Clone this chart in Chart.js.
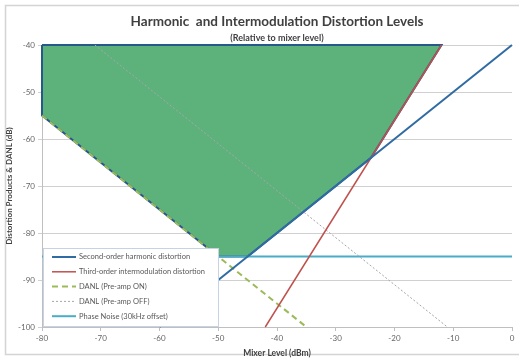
<!DOCTYPE html>
<html>
<head>
<meta charset="utf-8">
<script src="https://cdn.jsdelivr.net/npm/chart.js@4/dist/chart.umd.min.js"></script>
<style>
  html, body { margin: 0; padding: 0; background: #fff; }
</style>
</head>
<body>
<canvas id="chart" width="519" height="358"></canvas>
<script>
// line end points (mixer level dBm -> level dB)
var shdX = [-60, 0];          var shdY = [-100, -40];
var toiX = [-42, -12];        var toiY = [-100, -40];
var danlOnX = [-80, -35];     var danlOnY = [-55, -100];
var danlOffX = [-71, -11];    var danlOffY = [-40, -100];
var phaseX = [-80, 0];        var phaseY = [-85, -85];
// shaded dynamic range region
var rangeX = [-80, -12, -24, -45, -50, -80, -80];
var rangeY = [-40, -40, -64, -85, -85, -55, -40];

var xTicks = [-80, -70, -60, -50, -40, -30, -20, -10, 0];
var yTicks = [-100, -90, -80, -70, -60, -50, -40];

function pts(xs, ys) {
    return xs.map(function(x, i) { return { x: x, y: ys[i] }; });
}

var FONT = 'Lato, "Open Sans", sans-serif';

var frame = {
    id: 'frame',
    beforeDraw: function(chart) {
        var c = chart.ctx;
        c.save();
        c.fillStyle = '#fff';
        c.fillRect(0, 0, chart.width, chart.height);
        c.strokeStyle = '#d4d4d4';
        c.lineWidth = 1.5;
        c.strokeRect(5.5, 5.5, 525, 349);
        c.restore();
    }
};

var boxLegend = {
    id: 'boxLegend',
    afterDraw: function(chart) {
        var c = chart.ctx;
        c.save();
        c.fillStyle = '#fff';
        c.fillRect(43, 248, 175, 78);
        c.strokeStyle = '#c5d3e2';
        c.lineWidth = 1;
        c.strokeRect(43.5, 248.5, 175, 78);
        c.font = '7.5px ' + FONT;
        c.textBaseline = 'middle';
        var y = 257;
        chart.data.datasets.forEach(function(ds) {
            if (!ds.label) return;
            c.beginPath();
            c.setLineDash(ds.borderDash || []);
            c.strokeStyle = ds.borderColor;
            c.lineWidth = ds.borderWidth;
            c.moveTo(52, y);
            c.lineTo(76, y);
            c.stroke();
            c.setLineDash([]);
            c.fillStyle = '#595959';
            c.fillText(ds.label, 79, y);
            y += 14.8;
        });
        c.restore();
    }
};

new Chart(document.getElementById('chart'), {
    type: 'line',
    data: {
        datasets: [{
            label: 'Second-order harmonic distortion',
            data: pts(shdX, shdY),
            borderColor: '#2f6ca3',
            borderWidth: 2
        }, {
            label: 'Third-order intermodulation distortion',
            data: pts(toiX, toiY),
            borderColor: '#c0504d',
            borderWidth: 1.5
        }, {
            label: 'DANL (Pre-amp ON)',
            data: pts(danlOnX, danlOnY),
            borderColor: '#9bbb59',
            borderWidth: 2,
            borderDash: [6, 4]
        }, {
            label: 'DANL (Pre-amp OFF)',
            data: pts(danlOffX, danlOffY),
            borderColor: '#a6a6a6',
            borderWidth: 1,
            borderDash: [2, 2]
        }, {
            label: 'Phase Noise (30kHz offset)',
            data: pts(phaseX, phaseY),
            borderColor: '#4bacc6',
            borderWidth: 2
        }, {
            label: '',
            data: pts(rangeX, rangeY),
            borderColor: '#28588a',
            borderWidth: 2,
            backgroundColor: '#5db27c',
            fill: 'shape',
            order: 10
        }]
    },
    options: {
        responsive: false,
        animation: false,
        events: [],
        clip: false,
        elements: {
            point: { radius: 0 },
            line: { tension: 0, fill: false }
        },
        layout: { padding: { top: 5, right: 7, left: 0, bottom: 0 } },
        plugins: {
            legend: { display: false },
            tooltip: { enabled: false },
            title: {
                display: true,
                fullSize: false,
                text: 'Harmonic  and Intermodulation Distortion Levels',
                color: '#404040',
                font: { family: FONT, size: 13.5, weight: 'bold' },
                padding: { top: 9, bottom: 1 }
            },
            subtitle: {
                display: true,
                fullSize: false,
                text: '(Relative to mixer level)',
                color: '#404040',
                font: { family: FONT, size: 9, weight: 'bold' },
                padding: { top: 1, bottom: 2 }
            }
        },
        scales: {
            x: {
                type: 'linear',
                min: -80,
                max: 0,
                afterBuildTicks: function(s) { s.ticks = xTicks.map(function(v) { return { value: v }; }); },
                afterFit: function(s) { s.height = 31; },
                ticks: { color: '#666', font: { family: FONT, size: 8 }, padding: 3 },
                grid: { drawOnChartArea: false, tickLength: 4, color: '#bfbfbf' },
                border: { color: '#bfbfbf' },
                title: {
                    display: true,
                    text: 'Mixer Level (dBm)',
                    color: '#404040',
                    font: { family: FONT, size: 8.5, weight: 'bold' },
                    padding: { top: 0, bottom: 0 }
                }
            },
            y: {
                min: -100,
                max: -40,
                afterBuildTicks: function(s) { s.ticks = yTicks.map(function(v) { return { value: v }; }); },
                afterFit: function(s) { s.width = 42; },
                ticks: { color: '#666', font: { family: FONT, size: 8 }, padding: 3 },
                grid: { color: '#d0d0d0', tickLength: 4 },
                border: { color: '#bfbfbf' },
                title: {
                    display: true,
                    text: 'Distortion Products & DANL (dB)',
                    color: '#404040',
                    font: { family: FONT, size: 8, weight: 'bold' },
                    padding: { top: 5, bottom: 0 }
                }
            }
        }
    },
    plugins: [frame, boxLegend]
});
</script>
</body>
</html>
